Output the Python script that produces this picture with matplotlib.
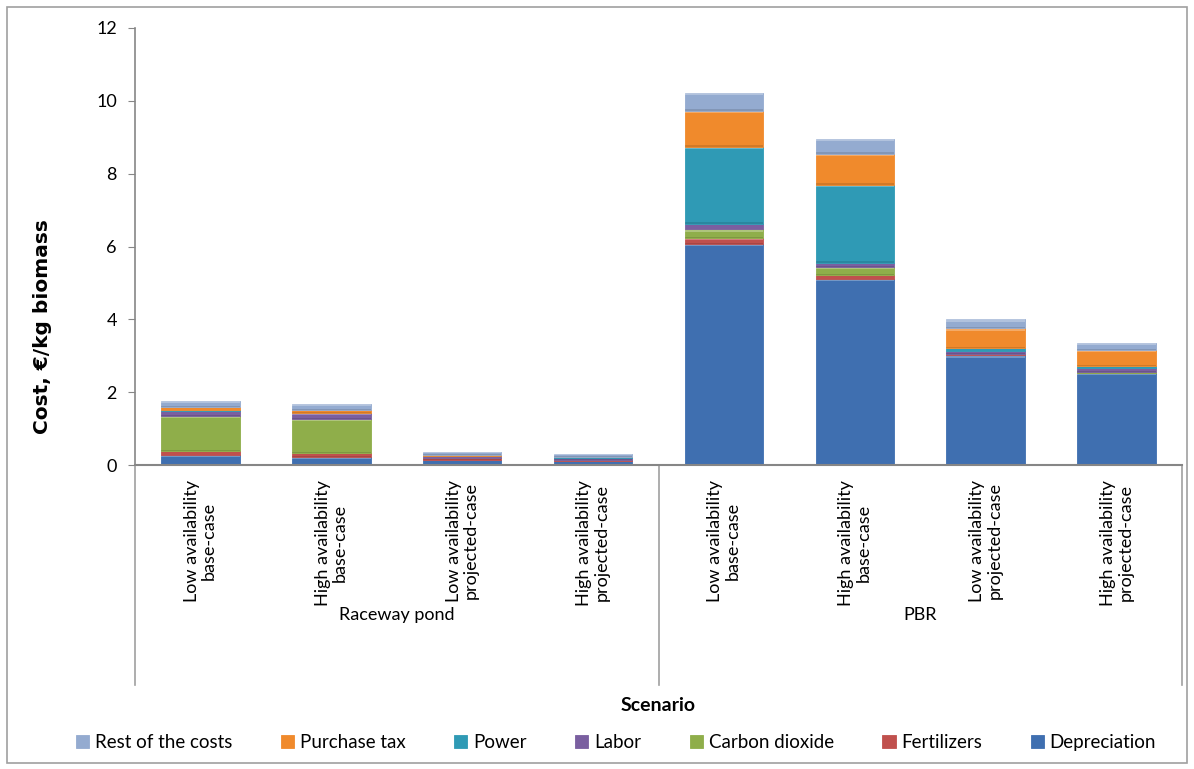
import numpy as np
import matplotlib
matplotlib.use("Agg")
import matplotlib.pyplot as plt
from matplotlib.patches import Rectangle

plt.rcParams['font.family'] = ['Lato', 'DejaVu Sans']

# scenario labels (two lines each) and their groups
scenarios = ['Low availability\nbase-case', 'High availability\nbase-case',
             'Low availability\nprojected-case', 'High availability\nprojected-case',
             'Low availability\nbase-case', 'High availability\nbase-case',
             'Low availability\nprojected-case', 'High availability\nprojected-case']
groups = ['Raceway pond', 'PBR']

# cost components, €/kg biomass (stacked bottom to top)
depreciation = [0.27, 0.22, 0.15, 0.12, 6.08, 5.10, 3.01, 2.52]
fertilizers = [0.11, 0.11, 0.03, 0.02, 0.14, 0.11, 0.03, 0.02]
carbon_dioxide = [0.96, 0.93, 0.01, 0.01, 0.25, 0.24, 0.02, 0.02]
labor = [0.14, 0.16, 0.05, 0.05, 0.16, 0.11, 0.06, 0.10]
power = [0.02, 0.02, 0.01, 0.02, 2.11, 2.14, 0.09, 0.05]
purchase_tax = [0.09, 0.07, 0.03, 0.01, 0.99, 0.85, 0.54, 0.44]
rest_costs = [0.16, 0.16, 0.08, 0.06, 0.49, 0.41, 0.25, 0.19]

series = [
    ('Depreciation', depreciation, '#3f6fb0'),
    ('Fertilizers', fertilizers, '#c0504d'),
    ('Carbon dioxide', carbon_dioxide, '#8fae4a'),
    ('Labor', labor, '#7a5fa0'),
    ('Power', power, '#2f9ab5'),
    ('Purchase tax', purchase_tax, '#f08a2c'),
    ('Rest of the costs', rest_costs, '#94abd0'),
]

fig = plt.figure(figsize=(11.94, 7.69), dpi=100)
ax = fig.add_axes([0.1131, 0.3953, 0.8769, 0.5683])

x = np.arange(len(scenarios))
bottom = np.zeros(len(scenarios))
handles = []
for name, vals, col in series:
    vals = np.array(vals)
    b = ax.bar(x, vals, width=0.6, bottom=bottom, color=col,
               edgecolor=col, linewidth=0.6, label=name)
    # light top strip / dark bottom strip for a bevelled look
    for xi, bi, vi in zip(x, bottom, vals):
        h = min(vi * 0.25, 0.06)
        ax.add_patch(Rectangle((xi - 0.3, bi + vi - h), 0.6, h,
                               facecolor='white', alpha=0.28, linewidth=0))
        ax.add_patch(Rectangle((xi - 0.3, bi), 0.6, h * 0.6,
                               facecolor='black', alpha=0.12, linewidth=0))
    handles.append(b)
    bottom += vals

ax.set_xlim(-0.5, len(scenarios) - 0.5)
ax.set_ylim(0, 12)
ax.set_yticks(np.arange(0, 13, 2))
ax.tick_params(axis='y', labelsize=13, length=5, color='#868686', pad=8)
ax.set_xticks([])
for s in ['top', 'right']:
    ax.spines[s].set_visible(False)
ax.spines['left'].set_color('#868686')
ax.spines['bottom'].set_color('#868686')
ax.spines['left'].set_linewidth(1.2)
ax.spines['bottom'].set_linewidth(1.5)

ax.set_ylabel('Cost, €/kg biomass', fontsize=14.5, fontweight='bold',
              family=['DejaVu Sans'])
ax.yaxis.set_label_coords(-0.079, 0.316)

# scenario labels, rotated, below the axis
trans = ax.get_xaxis_transform()
for xi, lab in zip(x, scenarios):
    ax.text(xi, -0.034, lab, transform=trans, rotation=90, ha='center', va='top',
            fontsize=13, multialignment='center', linespacing=1.1)

# group separators and group labels
for xb in [-0.5, 3.5, 7.5]:
    ax.plot([xb, xb], [0, -0.503], transform=trans, color='#a0a0a0', lw=1.2,
            clip_on=False)
for gi, g in enumerate(groups):
    ax.text(1.5 + 4 * gi, -0.343, g, transform=trans, ha='center', va='center',
            fontsize=13)

fig.text(0.551, 0.083, 'Scenario', ha='center', va='center', fontsize=14,
         fontweight='bold')

leg = fig.legend(handles[::-1], [s[0] for s in series][::-1], loc='center',
                 bbox_to_anchor=(0.516, 0.034), ncol=7, frameon=False,
                 fontsize=13.5, handlelength=0.7, handleheight=0.7,
                 handletextpad=0.3, columnspacing=2.6)

# outer chart border
fig.patches.append(Rectangle((0.006, 0.008), 0.988, 0.983, transform=fig.transFigure,
                             fill=False, edgecolor='#a0a0a0', linewidth=1.2))

fig.savefig('out.png', dpi=100)
